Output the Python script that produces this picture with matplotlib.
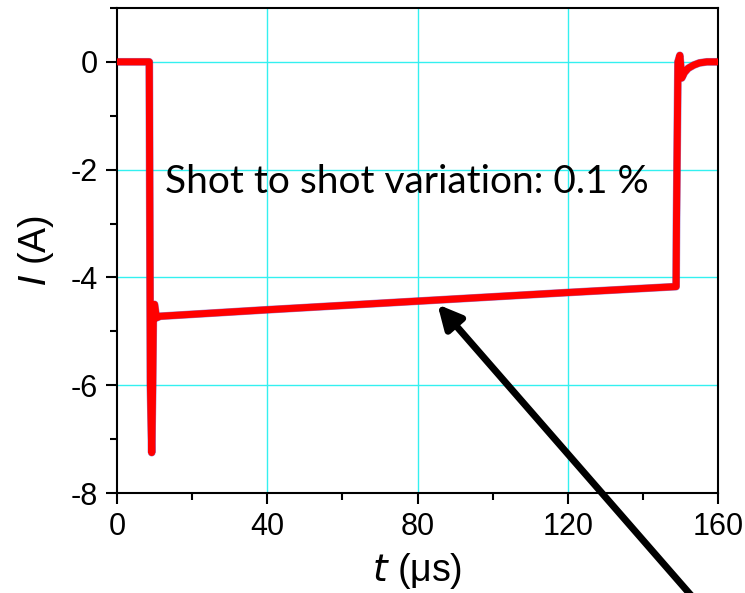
import matplotlib
matplotlib.use("Agg")
import matplotlib.pyplot as plt
from matplotlib.ticker import MultipleLocator

# Data
t_us = [0, 8.6, 8.7, 8.9, 9.25, 9.5, 9.7, 10.0, 10.5, 11.5, 40, 80, 120, 148.8,
        148.9, 149.3, 149.8, 150.3, 151.0, 152.0, 153.5, 155.0, 157.0, 160.0]
I_A = [0.0, 0.0, -2.0, -6.0, -7.25, -6.0, -4.55, -4.5, -4.75, -4.72, -4.6, -4.44, -4.28, -4.17,
       -3.0, 0.0, 0.12, -0.3, -0.2, -0.12, -0.06, -0.02, 0.0, 0.0]

x_ticks = [0, 40, 80, 120, 160]
y_ticks = [0, -2, -4, -6, -8]
annotation_text = "Shot to shot variation: 0.1 %"
arrow_tip = (85.3, -4.50)
arrow_tail = (152.8, -9.9)

plt.rcParams['axes.unicode_minus'] = False

fig = plt.figure(figsize=(7.45, 5.93), dpi=100)
ax = fig.add_axes([0.157, 0.1686, 0.807, 0.818])

ax.set_xlim(0, 160)
ax.set_ylim(-8, 1)

for gx in [40, 80, 120]:
    ax.axvline(gx, color='#33f0f0', lw=1.0, zorder=0)
for gy in [0, -2, -4, -6]:
    ax.axhline(gy, color='#33f0f0', lw=1.0, zorder=0)

ax.plot(t_us, I_A, color='#6633aa', lw=5.6, solid_joinstyle='round', zorder=2, alpha=0.6)
ax.plot(t_us, I_A, color='#ff0000', lw=5.0, solid_joinstyle='round', zorder=3)

ax.set_xticks(x_ticks)
ax.set_yticks(y_ticks)
ax.xaxis.set_minor_locator(MultipleLocator(20))
ax.yaxis.set_minor_locator(MultipleLocator(1))
ax.tick_params(which='major', direction='out', length=8, width=1.5,
               labelsize=22, pad=6)
ax.tick_params(which='minor', direction='out', length=5, width=1.5)
for lab in ax.get_xticklabels() + ax.get_yticklabels():
    lab.set_fontfamily('Liberation Sans')

for s in ax.spines.values():
    s.set_linewidth(1.5)

ax.set_xlabel(r"$\it{t}$ (μs)", fontsize=27, family='Liberation Sans', labelpad=6)
ax.set_ylabel(r"$\it{I}$ (A)", fontsize=27, family='Liberation Sans', labelpad=10)

ax.text(12.8, -2.23, annotation_text, fontsize=28, family='Lato',
        ha='left', va='center')

ax.annotate('', xy=arrow_tip, xytext=arrow_tail, xycoords='data',
            annotation_clip=False,
            arrowprops=dict(arrowstyle='-|>,head_length=1.4,head_width=0.7',
                            color='black', lw=5, shrinkA=0, shrinkB=0))

fig.savefig('out.png', dpi=100)
